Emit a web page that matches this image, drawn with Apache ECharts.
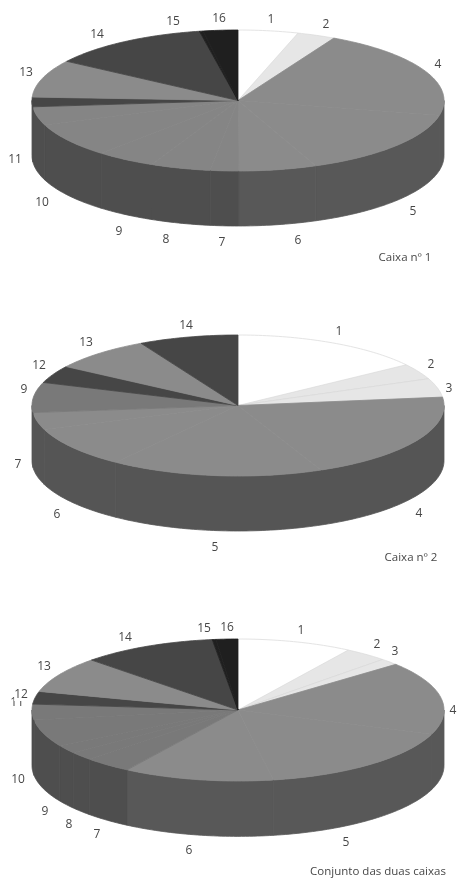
<!DOCTYPE html>
<html>
<head>
<meta charset="utf-8">
<title>Caixas</title>
<script src="https://cdn.jsdelivr.net/npm/echarts@6/dist/echarts.min.js"></script>
<style>
html, body { margin: 0; padding: 0; background: #fff; }
#chart { width: 461px; height: 879px; }
</style>
</head>
<body>
<div id="chart"></div>
<script>
// share of each category in the box, in percent
var namesA = ['1','2','4','5','6','7','8','9','10','11','','13','14','15','16'];
var valuesA = [4.7,3.0,20.6,15.5,6.1,2.2,4.7,4.7,7.8,4.2,2.2,8.6,12.6,0.3,2.7];

var namesB = ['1','2','3','4','5','6','7','9','12','13','14'];
var valuesB = [15.2,3.6,4.3,20.3,16.7,9.4,3.9,6.9,4.0,7.9,7.8];

var namesC = ['1','2','3','4','5','6','7','8','9','10','11','12','13','14','15','16'];
var valuesC = [9.0,3.4,1.5,16.7,16.7,11.8,3.8,1.9,1.9,6.1,3.6,2.9,8.2,10.6,0.3,1.7];

var captions = ['Caixa nº 1', 'Caixa nº 2', 'Conjunto das duas caixas'];

// greys
var WHITE = '#ffffff', PALE = '#e6e6e6', MID = '#8b8b8b', MIDL = '#858585', MIDD = '#797979',
    DARK = '#464646', BLACK = '#1f1f1f', WALL = '#585858', WALLD = '#4e4e4e';

// where the pies sit and where the hand-placed labels of the original go
var pies = [
  { names: namesA, values: valuesA, top: 30, height: 141, caption: [405, 258],
    fills: [WHITE,PALE,MID,MID,MID,MIDL,MIDL,MIDL,MIDL,MIDL,DARK,MID,DARK,BLACK,BLACK],
    walls: [WALL,WALL,WALL,WALL,WALL,WALLD,WALLD,WALLD,WALLD,WALLD,WALLD,WALLD,WALLD,WALLD,WALLD],
    labels: [[271,20],[326,25],[438,65],[413,212],[298,241],[222,243],[166,240],[119,232],[42,203],[15,160],null,[26,73],[97,35],[173,22],[219,19]] },
  { names: namesB, values: valuesB, top: 335, height: 141, caption: [411, 558],
    fills: [WHITE,PALE,PALE,MID,MID,MID,MID,MIDD,DARK,MID,DARK],
    walls: ['#555555','#555555','#555555','#555555','#555555','#555555','#555555','#555555','#555555','#555555','#555555'],
    labels: [[339,332],[431,365],[449,389],[419,514],[215,548],[57,515],[18,465],[24,390],[39,366],[86,343],[186,326]] },
  { names: namesC, values: valuesC, top: 639, height: 142, caption: [378, 872],
    fills: [WHITE,PALE,PALE,MID,MID,MID,MIDD,MIDD,MIDD,MIDD,MIDD,DARK,MID,DARK,BLACK,BLACK],
    walls: [WALL,WALL,WALL,WALL,WALL,WALL,WALLD,WALLD,WALLD,WALLD,WALLD,WALLD,WALLD,WALLD,WALLD,WALLD],
    labels: [[301,631],[377,645],[395,652],[453,711],[346,843],[189,851],[97,835],[69,825],[45,812],[18,780],[17,703],[21,695],[44,667],[125,638],[204,629],[227,628]] }
];
var pieLeft = 32, pieWidth = 412, wallDepth = 0.78;
var textGrey = '#474747', labelFont = '"Open Sans", sans-serif';

var myChart = echarts.init(document.getElementById('chart'));

function renderSlice(params, api) {
  var pie = pies[params.seriesIndex], i0 = params.dataIndex;
  var a = api.value(0), b = api.value(1);
  var depth = api.size([0, wallDepth])[1];
  var at = function (t) { return api.coord([Math.sin(t), Math.cos(t)]); };
  var arc = function (from, to, dy) {
    var n = Math.max(2, Math.ceil((to - from) / 0.02)), pts = [];
    for (var i = 0; i <= n; i++) {
      var p = at(from + (to - from) * i / n);
      pts.push([p[0], p[1] + dy]);
    }
    return pts;
  };
  var children = [];
  // side wall: only the part of the rim that faces us
  var w0 = Math.max(a, Math.PI / 2), w1 = Math.min(b, Math.PI * 1.5);
  if (w1 > w0) {
    children.push({
      type: 'polygon',
      shape: { points: arc(w0, w1, 0).concat(arc(w0, w1, depth).reverse()) },
      style: { fill: pie.walls[i0], stroke: pie.walls[i0], lineWidth: 0.8 }
    });
  }
  var fill = pie.fills[i0];
  var isWhite = fill === WHITE, isPale = fill === PALE;
  children.push({
    type: 'polygon',
    shape: { points: [api.coord([0, 0])].concat(arc(a, b, 0)) },
    style: { fill: fill, stroke: isWhite ? null : (isPale ? '#d6d6d6' : fill), lineWidth: isPale ? 0.6 : 0.8 }
  });
  if (isWhite) {
    children.push({
      type: 'polyline',
      shape: { points: arc(a, b, 0) },
      style: { fill: null, stroke: '#e4e4e4', lineWidth: 1 }
    });
  }
  return { type: 'group', children: children };
}

var series = [], grids = [], xAxes = [], yAxes = [], graphics = [];
pies.forEach(function (pie, idx) {
  var total = pie.values.reduce(function (s, v) { return s + v; }, 0), run = 0;
  var rows = pie.values.map(function (v) {
    var start = run / total * Math.PI * 2;
    run += v;
    return [start, run / total * Math.PI * 2];
  });
  grids.push({ left: pieLeft, width: pieWidth, top: pie.top, height: pie.height });
  xAxes.push({ type: 'value', gridIndex: idx, min: -1, max: 1, show: false });
  yAxes.push({ type: 'value', gridIndex: idx, min: -1, max: 1, show: false });
  series.push({
    type: 'custom',
    xAxisIndex: idx,
    yAxisIndex: idx,
    silent: true,
    clip: false,
    renderItem: renderSlice,
    encode: { x: 0, y: 1 },
    data: rows
  });
  pie.labels.forEach(function (xy, i) {
    if (!xy) return;
    graphics.push({
      type: 'text', x: xy[0], y: xy[1], silent: true,
      style: {
        text: pie.names[i], fill: textGrey, font: '12px ' + labelFont,
        align: 'center', verticalAlign: 'middle',
        backgroundColor: (idx === 2 && pie.names[i] === '12') ? '#fff' : 'transparent'
      }
    });
  });
  graphics.push({
    type: 'text', x: pie.caption[0], y: pie.caption[1], silent: true,
    style: { text: captions[idx], fill: textGrey, font: '11.5px ' + labelFont, align: 'center', verticalAlign: 'middle' }
  });
});

var option = {
  backgroundColor: '#fff',
  animation: false,
  grid: grids,
  xAxis: xAxes,
  yAxis: yAxes,
  series: series,
  graphic: graphics
};
myChart.setOption(option);
</script>
</body>
</html>
